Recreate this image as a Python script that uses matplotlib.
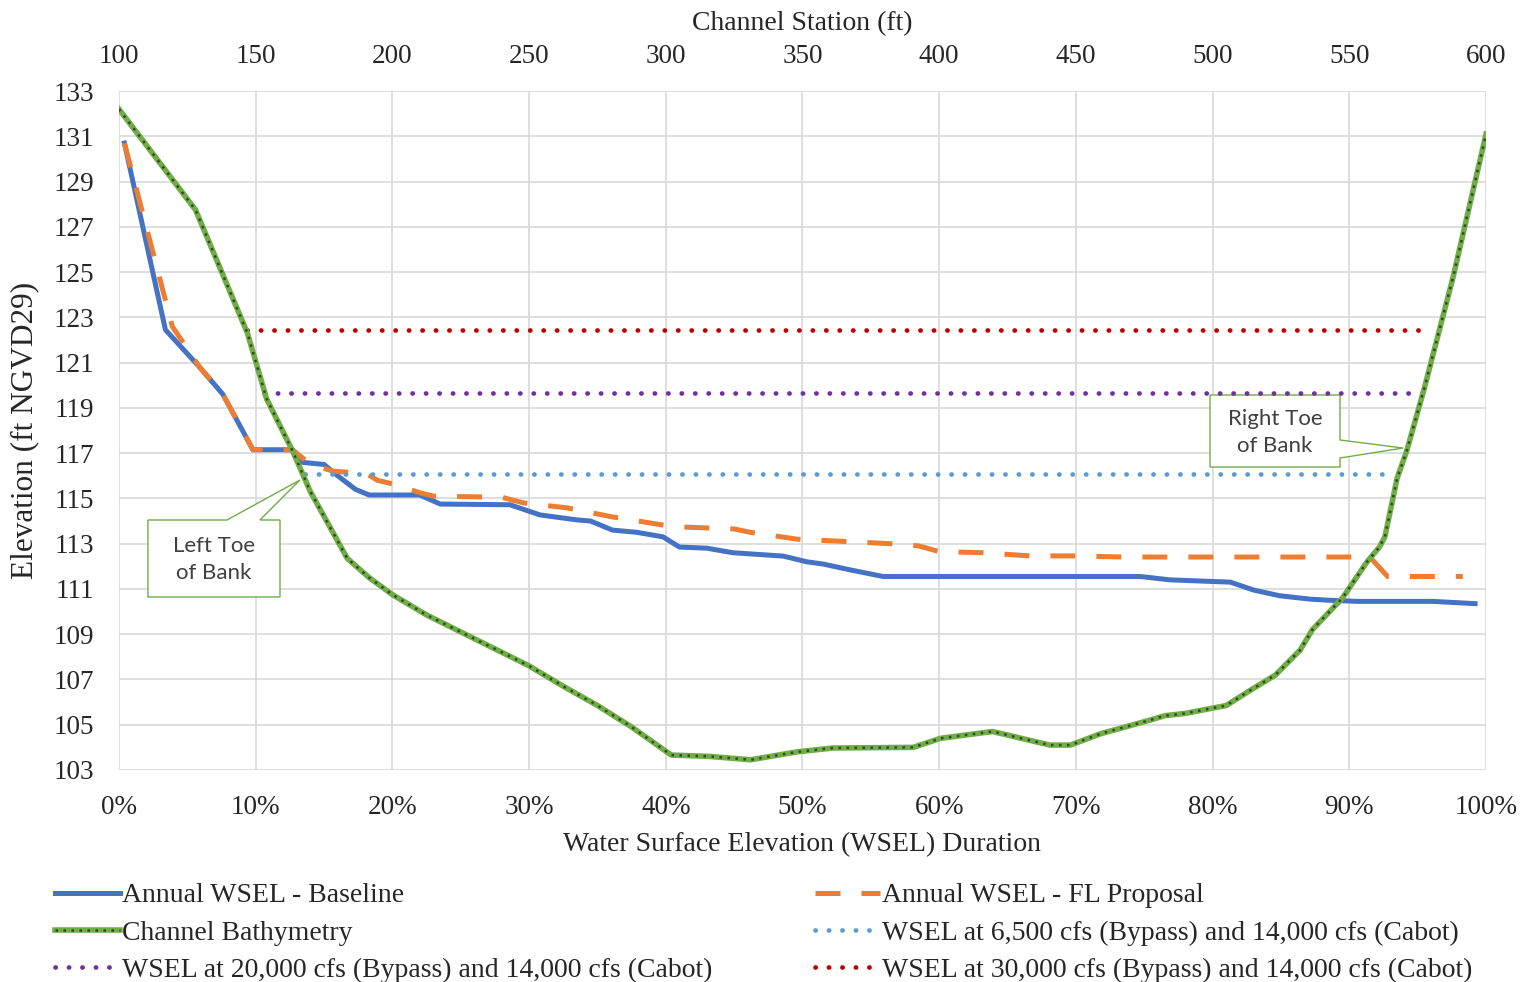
import matplotlib
matplotlib.use("Agg")
import matplotlib.pyplot as plt
from matplotlib.patches import Polygon
from matplotlib.lines import Line2D

plt.rcParams["font.family"] = ["Liberation Serif", "DejaVu Serif"]

# ---- data ---------------------------------------------------------------
# Annual WSEL duration curves (x: percent of time, y: elevation ft NGVD29)
baseline_pct = [0.4, 3.4, 5.9, 7.6, 9.8, 12.7, 13.3, 15.0, 16.0, 17.3, 18.3, 22.0,
                23.5, 28.6, 30.8, 33.5, 34.5, 36.1, 37.9, 39.8, 41.0, 43.0, 44.9,
                48.6, 50.3, 51.5, 53.5, 55.9, 74.7, 76.9, 81.3, 83.0, 84.9, 87.1,
                88.5, 90.6, 96.1, 99.2]
baseline_wsel = [130.7, 122.45, 120.8, 119.6, 117.15, 117.15, 116.6, 116.5, 116.0,
                 115.4, 115.15, 115.15, 114.75, 114.72, 114.27, 114.05, 114.0, 113.6,
                 113.5, 113.3, 112.85, 112.8, 112.6, 112.45, 112.2, 112.1, 111.84,
                 111.55, 111.55, 111.4, 111.3, 110.95, 110.7, 110.55, 110.5, 110.45,
                 110.45, 110.35]

proposal_pct = [0.4, 3.9, 5.9, 7.6, 9.8, 12.7, 14.0, 15.7, 18.1, 18.9, 20.3, 22.0,
                23.0, 28.0, 29.6, 32.8, 36.1, 38.5, 40.5, 45.0, 46.2, 49.6, 53.0,
                56.4, 58.5, 60.0, 63.2, 66.6, 70.0, 73.5, 91.5, 92.8, 98.3]
proposal_wsel = [130.7, 122.6, 120.8, 119.6, 117.15, 117.15, 116.5, 116.2, 116.1,
                 115.8, 115.6, 115.25, 115.1, 115.05, 114.8, 114.58, 114.18, 113.95,
                 113.75, 113.65, 113.5, 113.2, 113.1, 113.0, 112.9, 112.65, 112.6,
                 112.46, 112.46, 112.41, 112.41, 111.55, 111.55]

# Channel cross-section (x: channel station ft, y: bed elevation)
bathy_station = [100, 128, 147, 154, 163.5, 170, 183.5, 191.5, 200, 212.5, 225,
                 237.5, 250, 262.5, 275, 287.5, 302, 316, 331, 348, 361, 390.5,
                 400.5, 419.5, 430, 440.5, 448, 459, 477, 482.5, 490, 505, 513.5,
                 523, 532, 536.5, 547.5, 556.5, 561, 563, 567.5, 571, 577.5, 588, 600]
bathy_elev = [132.2, 127.75, 122.3, 119.4, 117.1, 115.3, 112.35, 111.5, 110.75,
              109.85, 109.1, 108.35, 107.6, 106.7, 105.85, 104.9, 103.66, 103.6,
              103.45, 103.8, 103.97, 104.0, 104.4, 104.7, 104.4, 104.1, 104.1,
              104.6, 105.2, 105.4, 105.5, 105.85, 106.5, 107.2, 108.3, 109.2,
              110.6, 112.2, 112.85, 113.3, 115.9, 117.1, 119.9, 124.8, 131.1]

# Steady-flow WSELs across the channel (start station, end station, elevation)
wsel_6500 = (168, 566, 116.1)
wsel_20000 = (153, 576, 119.65)
wsel_30000 = (147, 578, 122.45)

duration_ticks = list(range(0, 101, 10))
duration_labels = [f"{t}%" for t in duration_ticks]
station_ticks = list(range(100, 601, 50))
elev_ticks = list(range(103, 134, 2))

labels = {
    "base": "Annual WSEL - Baseline",
    "prop": "Annual WSEL - FL Proposal",
    "bathy": "Channel Bathymetry",
    "q6500": "WSEL at 6,500 cfs (Bypass) and 14,000 cfs (Cabot)",
    "q20000": "WSEL at 20,000 cfs (Bypass) and 14,000 cfs (Cabot)",
    "q30000": "WSEL at 30,000 cfs (Bypass) and 14,000 cfs (Cabot)",
}

# ---- styling ------------------------------------------------------------
C_BLUE = "#4472C4"
C_ORANGE = "#ED7D31"
C_GREEN = "#70AD47"
C_DOT = "#2E4A1F"
C_LBLUE = "#5B9BD5"
C_PURPLE = "#7030A0"
C_RED = "#C00000"
TXT = "#262626"
GRID = "#D9D9D9"
FS_TICK = 19.5
FS_LAB = 20

fig = plt.figure(figsize=(15.29, 9.82), dpi=100)
ax = fig.add_axes([0.0778, 0.2159, 0.8941, 0.6914])
ax2 = ax.twiny()

ax.set_xlim(0, 100)
ax.set_ylim(103, 133)
ax2.set_xlim(100, 600)

ax.set_xticks(duration_ticks)
ax.set_xticklabels(duration_labels)
ax.set_yticks(elev_ticks)
ax2.set_xticks(station_ticks)

for a in (ax, ax2):
    for s in a.spines.values():
        s.set_visible(False)
    a.tick_params(length=0, labelsize=FS_TICK, labelcolor=TXT)
ax.tick_params(axis="x", pad=18)
ax.tick_params(axis="y", pad=18)
ax2.tick_params(axis="x", pad=16)

ax.grid(True, color=GRID, lw=1.2, zorder=0)
ax.set_axisbelow(True)

ax.set_xlabel("Water Surface Elevation (WSEL) Duration", fontsize=FS_LAB, color=TXT, labelpad=9)
ax2.set_xlabel("Channel Station (ft)", fontsize=FS_LAB, color=TXT, labelpad=10)
ax.set_ylabel("Elevation (ft NGVD29)", fontsize=22.5, color=TXT, labelpad=10)

# duration curves
l_base, = ax.plot(baseline_pct, baseline_wsel, color=C_BLUE, lw=3.6,
                  solid_joinstyle="round", zorder=3)
l_prop, = ax.plot(proposal_pct, proposal_wsel, color=C_ORANGE, lw=3.6,
                  linestyle=(0, (5, 4.2)), zorder=4)

# steady-flow water surfaces
dot_style = dict(lw=3.4, linestyle=(0, (0.05, 2.8)), dash_capstyle="round", zorder=3)
l_q65, = ax2.plot(wsel_6500[:2], [wsel_6500[2]] * 2, color=C_LBLUE, **dot_style)
l_q20, = ax2.plot(wsel_20000[:2], [wsel_20000[2]] * 2, color=C_PURPLE, **dot_style)
l_q30, = ax2.plot(wsel_30000[:2], [wsel_30000[2]] * 2, color=C_RED, **dot_style)

# bathymetry: green line with a dark dotted core
l_bg, = ax2.plot(bathy_station, bathy_elev, color=C_GREEN, lw=4.0, zorder=5,
                 solid_joinstyle="round")
l_bd, = ax2.plot(bathy_station, bathy_elev, color=C_DOT, lw=1.8,
                 linestyle=(0, (1, 2.2)), zorder=6)

# callout boxes for the bank toes (axes-fraction coordinates)
left_callout = [(0.0212, 0.3682), (0.0790, 0.3682), (0.1324, 0.4271),
                (0.1031, 0.3682), (0.1178, 0.3682), (0.1178, 0.2548),
                (0.0212, 0.2548)]
right_callout = [(0.7981, 0.5523), (0.8932, 0.5523), (0.8932, 0.4860),
                 (0.9393, 0.4742), (0.8932, 0.4595), (0.8932, 0.4462),
                 (0.7981, 0.4462)]
for pts in (left_callout, right_callout):
    ax2.add_patch(Polygon(pts, closed=True, transform=ax2.transAxes,
                          facecolor="white", edgecolor=C_GREEN, lw=1.0, zorder=2))
ax2.text(0.0695, 0.3100, "Left Toe\nof Bank", transform=ax2.transAxes,
         ha="center", va="center", fontsize=16, family=["Lato", "DejaVu Sans"],
         color="#404040", linespacing=1.45, zorder=7)
ax2.text(0.8457, 0.4970, "Right Toe\nof Bank", transform=ax2.transAxes,
         ha="center", va="center", fontsize=16, family=["Lato", "DejaVu Sans"],
         color="#404040", linespacing=1.45, zorder=7)

# legend in two columns below the plot
leg_kw = dict(frameon=False, fontsize=FS_LAB, handlelength=2.35, handletextpad=0.07,
              labelspacing=0.43, borderpad=0, borderaxespad=0, labelcolor=TXT)
leg_dot_l = Line2D([], [], color=C_PURPLE, **dot_style)
leg_dot_b = Line2D([], [], color=C_LBLUE, **dot_style)
leg_dot_r = Line2D([], [], color=C_RED, **dot_style)
fig.legend([l_base, (l_bg, l_bd), leg_dot_l],
           [labels["base"], labels["bathy"], labels["q20000"]],
           loc="upper left", bbox_to_anchor=(0.036, 0.101), **leg_kw)
fig.legend([l_prop, leg_dot_b, leg_dot_r],
           [labels["prop"], labels["q6500"], labels["q30000"]],
           loc="upper left", bbox_to_anchor=(0.533, 0.101), **leg_kw)

fig.savefig("out.png", dpi=100)
